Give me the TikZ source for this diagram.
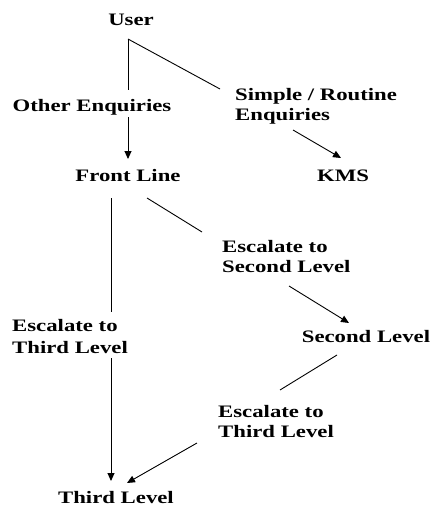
\documentclass[tikz,border=0pt]{standalone}
\usepackage{fontspec}
\newfontfamily\lblfont{Liberation Serif Bold}[FakeStretch=1.3]
\usetikzlibrary{arrows.meta}
\tikzset{
  lbl/.style={inner sep=0pt, font=\lblfont\fontsize{17.5}{20}\selectfont},
  conn/.style={draw=black, line width=0.9pt},
  arr/.style={conn, -{Triangle[length=8pt,width=7pt]}}
}
\begin{document}
\begin{tikzpicture}[x=1pt,y=-1pt]
\useasboundingbox[fill=white] (0,0) rectangle (437,506);
% labels
\node[lbl, anchor=base] (user) at (131,25) {User};
\node[lbl, anchor=base] (other) at (92,111) {Other Enquiries};
\node[lbl, anchor=base west] (simple1) at (235,100) {Simple / Routine};
\node[lbl, anchor=base west] (simple2) at (235,120) {Enquiries};
\node[lbl, anchor=base] (front) at (128,181) {Front Line};
\node[lbl, anchor=base] (kms) at (343,181) {KMS};
\node[lbl, anchor=base west] (esc3a) at (12,331) {Escalate to};
\node[lbl, anchor=base west] (esc3b) at (12,353) {Third Level};
\node[lbl, anchor=base west] (esc2a) at (222,252) {Escalate to};
\node[lbl, anchor=base west] (esc2b) at (222,272) {Second Level};
\node[lbl, anchor=base] (second) at (366,342) {Second Level};
\node[lbl, anchor=base west] (esc23a) at (218,417) {Escalate to};
\node[lbl, anchor=base west] (esc23b) at (218,437) {Third Level};
\node[lbl, anchor=base] (third) at (116,503) {Third Level};
% connector points
\coordinate (u0) at (128,39);
\coordinate (u1) at (128,90);
\coordinate (u2) at (128,117);
\coordinate (u3) at (128,159);
\coordinate (d1) at (220,89);
\coordinate (s0) at (293,130);
\coordinate (s1) at (341,158);
\coordinate (f0) at (111,198);
\coordinate (f1) at (111,312);
\coordinate (f2) at (111,358);
\coordinate (f3) at (111,481);
\coordinate (g0) at (147,198);
\coordinate (g1) at (202,232);
\coordinate (g2) at (289,286);
\coordinate (g3) at (349,323);
\coordinate (h0) at (337,355);
\coordinate (h1) at (280,390);
\coordinate (h2) at (197,443);
\coordinate (h3) at (127,483);
% connectors
\draw[conn] (u0) -- (u1);
\draw[arr] (u2) -- (u3);
\draw[conn] (u0) -- (d1);
\draw[arr] (s0) -- (s1);
\draw[conn] (f0) -- (f1);
\draw[arr] (f2) -- (f3);
\draw[conn] (g0) -- (g1);
\draw[arr] (g2) -- (g3);
\draw[conn] (h0) -- (h1);
\draw[arr] (h2) -- (h3);
\end{tikzpicture}
\end{document}
